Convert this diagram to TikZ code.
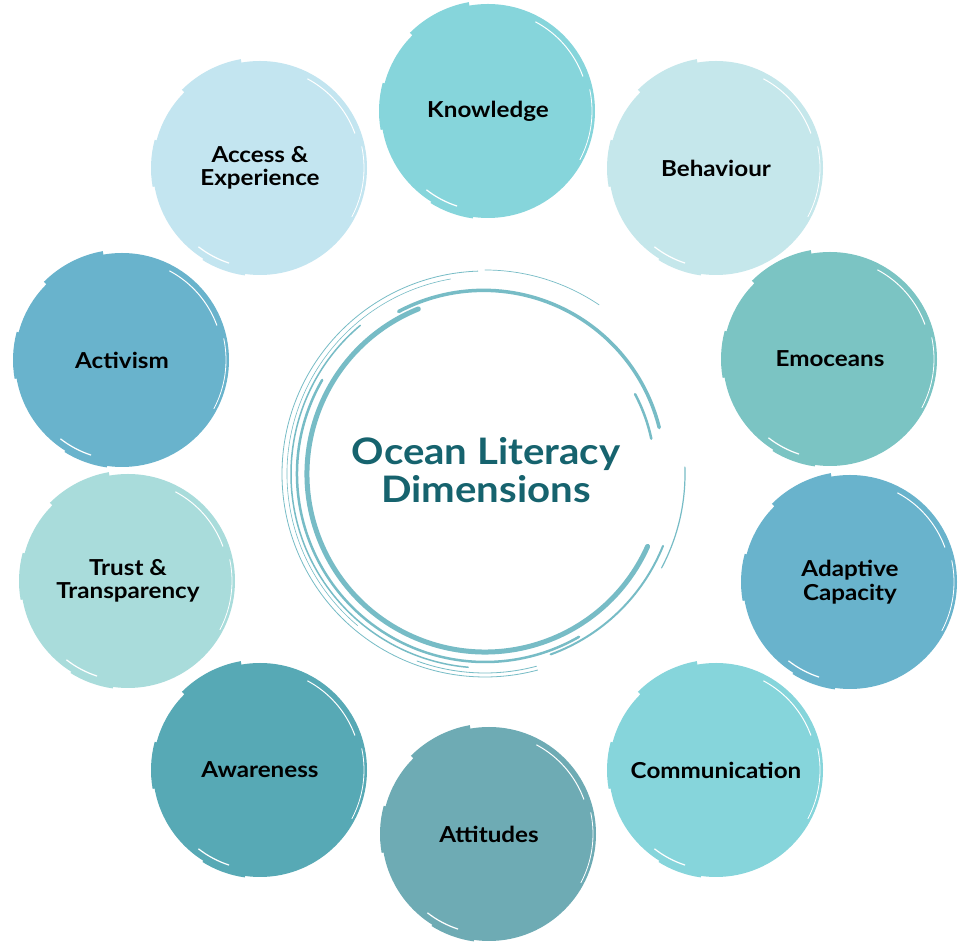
\documentclass[tikz,border=0pt]{standalone}
\usepackage{fontspec}
\setmainfont{Lato}
\newfontfamily\labelfont{Lato}[BoldFeatures={FakeStretch=1.1}]
\usetikzlibrary{calc}
\definecolor{cKnow}{HTML}{86D5DB}
\definecolor{cBeh}{HTML}{C5E7EB}
\definecolor{cEmo}{HTML}{7BC4C3}
\definecolor{cAda}{HTML}{69B3CC}
\definecolor{cCom}{HTML}{86D5DB}
\definecolor{cAtt}{HTML}{6EABB4}
\definecolor{cAwa}{HTML}{57A9B5}
\definecolor{cTru}{HTML}{A9DCDB}
\definecolor{cAct}{HTML}{69B3CC}
\definecolor{cAcc}{HTML}{C3E5F0}
\definecolor{ringcol}{HTML}{77BCC6}
\definecolor{titlecol}{HTML}{16636E}
\tikzset{
  dimbox/.style={circle, inner sep=0pt, minimum size=214pt, align=center,
    font=\labelfont\fontsize{22}{23.5}\selectfont\bfseries, text=black},
  ringline/.style={draw=ringcol, line cap=round}
}
\newcommand\bcirc[5]{%
  \node[dimbox, fill=#4] (#1) at (#2,#3) {#5};
  \draw[#4, line width=5pt] ([shift={(100:108pt)}]#1.center) arc (100:135:108pt);
  \draw[#4, line width=4pt] ([shift={(165:107pt)}]#1.center) arc (165:190:107pt);
  \draw[#4, line width=3pt] ([shift={(238:107pt)}]#1.center) arc (238:262:107pt);
  \draw[white, line width=1pt] ([shift={(62:101pt)}]#1.center) arc (62:20:101pt);
  \draw[white, line width=0.8pt] ([shift={(12:104pt)}]#1.center) arc (12:-28:104pt);
  \draw[white, line width=1.2pt] ([shift={(252:100pt)}]#1.center) arc (252:232:100pt);
}
\begin{document}
\begin{tikzpicture}[x=1pt,y=1pt]
\useasboundingbox (0,0) rectangle (959,942);
\fill[white] (0,0) rectangle (959,942);
% outer dimension circles
\bcirc{know}{488}{831}{cKnow}{Knowledge}
\bcirc{beh}{716}{774}{cBeh}{Behaviour}
\bcirc{emo}{830}{583}{cEmo}{Emoceans}
\bcirc{ada}{850}{360}{cAda}{Adaptive\\Capacity}
\bcirc{com}{716}{172}{cCom}{Communication}
\bcirc{att}{489}{108}{cAtt}{Attitudes}
\bcirc{awa}{260}{172}{cAwa}{Awareness}
\bcirc{tru}{128}{361}{cTru}{Trust \&\\Transparency}
\bcirc{act}{122}{582}{cAct}{Activism}
\bcirc{acc}{260}{774}{cAcc}{Access \&\\Experience}
% central hand-drawn ring
\coordinate (ctr) at (485,468);
\draw[ringline, line width=5pt] ([shift={(112:178pt)}]ctr) arc (112:336:178pt);
\draw[ringline, line width=3.5pt] ([shift={(118:184pt)}]ctr) arc (118:14:181pt);
\draw[ringline, line width=2.5pt] ([shift={(150:188pt)}]ctr) arc (150:300:188pt);
\draw[ringline, line width=1.5pt] ([shift={(130:194pt)}]ctr) arc (130:265:194pt);
\draw[ringline, line width=0.8pt] ([shift={(92:203pt)}]ctr) arc (92:285:203pt);
\draw[ringline, line width=0.6pt] ([shift={(100:198pt)}]ctr) arc (100:230:198pt);
\draw[ringline, line width=0.7pt] ([shift={(90:204pt)}]ctr) arc (90:56:204pt);
\draw[ringline, line width=1.2pt] ([shift={(2:200pt)}]ctr) arc (2:-28:200pt);
\draw[ringline, line width=2pt] ([shift={(-22:192pt)}]ctr) arc (-22:-70:192pt);
\draw[ringline, line width=0.8pt] ([shift={(-75:199pt)}]ctr) arc (-75:-110:199pt);
\draw[ringline, line width=2.5pt] ([shift={(28:170pt)}]ctr) arc (28:12:170pt);
\node[font=\labelfont\fontsize{36.5}{38}\selectfont\bfseries, text=titlecol, align=center] (title) at (486,472) {Ocean Literacy\\Dimensions};
\end{tikzpicture}
\end{document}
